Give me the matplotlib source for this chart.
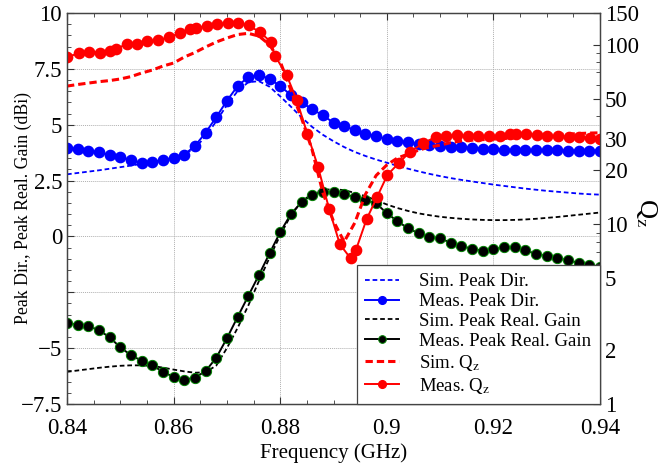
import numpy as np
import matplotlib.pyplot as plt
from matplotlib.ticker import FixedLocator, FixedFormatter, NullFormatter

plt.rcParams['font.family'] = ['Liberation Serif', 'DejaVu Serif']
plt.rcParams['mathtext.fontset'] = 'stix'

# frequency sweep (GHz), 2 MHz steps
freq = np.linspace(0.84, 0.94, 51)

sim_dir = [2.78, 2.84, 2.90, 2.96, 3.03, 3.10, 3.17, 3.25, 3.33, 3.42,
           3.52, 3.66, 3.95, 4.48, 5.15, 5.88, 6.50, 6.90, 6.95, 6.70,
           6.27, 5.81, 5.33, 4.90, 4.55, 4.26, 4.00, 3.78, 3.60, 3.44,
           3.30, 3.16, 3.03, 2.91, 2.80, 2.70, 2.61, 2.53, 2.46, 2.39,
           2.32, 2.26, 2.20, 2.14, 2.09, 2.04, 2.00, 1.96, 1.92, 1.89, 1.87]
meas_dir = [3.97, 3.91, 3.84, 3.76, 3.66, 3.55, 3.43, 3.29, 3.32, 3.41,
            3.51, 3.66, 4.05, 4.64, 5.34, 6.07, 6.73, 7.13, 7.22, 7.06,
            6.73, 6.33, 6.00, 5.69, 5.42, 5.09, 4.94, 4.76, 4.60, 4.48,
            4.37, 4.28, 4.21, 4.13, 4.09, 4.05, 4.02, 3.99, 3.96, 3.93,
            3.91, 3.88, 3.87, 3.87, 3.85, 3.85, 3.85, 3.84, 3.84, 3.84, 3.84]
sim_gain = [-6.06, -6.00, -5.94, -5.88, -5.83, -5.79, -5.77, -5.77, -5.80, -5.87,
            -5.96, -6.04, -6.10, -6.08, -5.78, -5.00, -4.10, -3.10, -2.00, -0.95,
            0.05, 0.95, 1.55, 1.92, 2.08, 2.12, 2.07, 1.95, 1.80, 1.62,
            1.43, 1.27, 1.14, 1.03, 0.95, 0.88, 0.83, 0.79, 0.76, 0.74,
            0.73, 0.73, 0.74, 0.76, 0.79, 0.83, 0.87, 0.92, 0.97, 1.02, 1.07]
meas_gain = [-3.89, -3.95, -4.02, -4.19, -4.52, -4.96, -5.32, -5.56, -5.77, -6.06,
             -6.29, -6.41, -6.32, -6.03, -5.43, -4.56, -3.61, -2.67, -1.73, -0.76,
             0.19, 1.00, 1.53, 1.87, 2.00, 1.99, 1.89, 1.76, 1.63, 1.48,
             1.04, 0.68, 0.36, 0.14, -0.03, -0.09, -0.28, -0.42, -0.56, -0.64,
             -0.58, -0.49, -0.49, -0.61, -0.79, -0.88, -0.97, -1.07, -1.18, -1.27, -1.36]
sim_q = [58.8, 60.0, 61.1, 62.2, 63.1, 64.4, 66.4, 69.5, 72.2, 76.0,
         79.0, 85.3, 90.4, 97.0, 103.4, 108.8, 113.8, 115.6, 111.6, 100.0,
         80.5, 56.0, 39.0, 25.9, 15.0, 10.4, 8.0, 10.2, 14.7, 18.7,
         21.4, 23.4, 24.6, 25.9, 26.9, 27.6, 28.5, 29.1, 29.4, 29.6,
         29.8, 30.0, 30.4, 30.8, 31.1, 31.4, 31.6, 31.8, 32.0, 32.2, 32.3]

meas_q_freq = [0.8400, 0.8423, 0.8442, 0.8462, 0.8481, 0.8492, 0.8512, 0.8532, 0.8551, 0.8571,
               0.8592, 0.8612, 0.8631, 0.8642, 0.8662, 0.8682, 0.8703, 0.8721, 0.8741, 0.8762,
               0.8782, 0.8790, 0.8812, 0.8831, 0.8851, 0.8871, 0.8892, 0.8912, 0.8932, 0.8942,
               0.8962, 0.8982, 0.9001, 0.9022, 0.9044, 0.9068, 0.9092, 0.9112, 0.9132, 0.9153,
               0.9172, 0.9192, 0.9212, 0.9231, 0.9242, 0.9261, 0.9281, 0.9301, 0.9321, 0.9341,
               0.9361, 0.9381, 0.9400]
meas_q = [85.6, 89.4, 91.3, 90.2, 92.5, 94.5, 100.8, 101.2, 104.3, 106.1,
          109.8, 116.0, 121.7, 123.3, 126.9, 129.7, 131.4, 131.4, 128.1, 117.1,
          104.0, 87.0, 67.7, 49.2, 31.8, 20.9, 12.1, 7.74, 6.47, 7.19,
          10.66, 14.24, 18.8, 21.85, 25.4, 28.2, 30.7, 31.0, 31.4, 31.0,
          31.0, 31.0, 31.1, 31.7, 31.8, 31.8, 31.4, 31.1, 31.0, 30.7,
          30.7, 30.3, 29.7]

fig = plt.figure(figsize=(6.72, 4.66), dpi=100)
ax = fig.add_axes([67 / 672, 1 - 404 / 466, 533 / 672, 391 / 466])
ax2 = ax.twinx()

# directivity / gain on left axis
l1, = ax.plot(freq, sim_dir, color='blue', lw=1.3, dashes=(2.6, 1.6))
l2, = ax.plot(freq, meas_dir, color='blue', lw=1.4, marker='o', ms=7.4,
              mfc='blue', mec='blue')
l3, = ax.plot(freq, sim_gain, color='black', lw=1.3, dashes=(2.6, 1.6))
l4, = ax.plot(freq, meas_gain, color='black', lw=1.4, marker='o', ms=7.4,
              mfc='black', mec='green', mew=0.7)

# Q on right (log) axis
l5, = ax2.plot(freq, sim_q, color='red', lw=2.2, dashes=(2.4, 1.3))
l6, = ax2.plot(meas_q_freq, meas_q, color='red', lw=1.4, marker='o', ms=7.4,
               mfc='red', mec='red')

ax.set_xlim(0.84, 0.94)
ax.set_ylim(-7.5, 10)
ax2.set_yscale('log')
ax2.set_ylim(1, 150)

ax.set_xticks([0.84, 0.86, 0.88, 0.9, 0.92, 0.94])
ax.set_xticklabels(['0.84', '0.86', '0.88', '0.9', '0.92', '0.94'])
ax.xaxis.set_minor_locator(FixedLocator(np.arange(0.84, 0.9401, 0.005)))
ax.set_yticks([-7.5, -5, -2.5, 0, 2.5, 5, 7.5, 10])
ax.set_yticklabels(['\u22127.5', '\u22125', '', '0', '2.5', '5', '7.5', '10'])
ax.yaxis.set_minor_locator(FixedLocator(np.arange(-7.5, 10.01, 0.5)))

q_ticks = [1, 2, 5, 10, 20, 30, 50, 100, 150]
ax2.yaxis.set_major_locator(FixedLocator(q_ticks))
ax2.yaxis.set_major_formatter(FixedFormatter([str(t) for t in q_ticks]))
q_minor = [3, 4, 6, 7, 8, 9, 40, 60, 70, 80, 90]
ax2.yaxis.set_minor_locator(FixedLocator(q_minor))
ax2.yaxis.set_minor_formatter(NullFormatter())

ax.grid(True, which='major', color='#b0b0b0', linestyle=(0, (1, 1)), lw=0.7)

ax.tick_params(which='both', direction='in', top=True, right=False,
               labelsize=16.5, colors='#333333', labelcolor='black')
ax.tick_params(which='major', length=5, width=0.8)
ax.tick_params(which='minor', length=3, width=0.6)
ax.tick_params(axis='x', which='major', pad=10)
ax2.tick_params(which='both', direction='in', labelsize=16.5,
                colors='#333333', labelcolor='black')
ax2.tick_params(which='major', length=5, width=0.8)
ax2.tick_params(which='minor', length=3, width=0.6)

for a in (ax, ax2):
    for s in a.spines.values():
        s.set_color('#444444')
        s.set_linewidth(0.9)

ax.set_xlabel('Frequency (GHz)', fontsize=15, labelpad=3)
ax.set_ylabel('Peak Dir., Peak Real. Gain (dBi)', fontsize=12.8)
ax.yaxis.set_label_coords(-0.066, 0.5)
fig.text(647 / 672, 1 - 213 / 466, r'Q$_\mathrm{z}$', fontsize=19,
         rotation=270, ha='center', va='center')

leg = ax2.legend([l1, l2, l3, l4, l5, l6],
                 ['Sim. Peak Dir.', 'Meas. Peak Dir.', 'Sim. Peak Real. Gain',
                  'Meas. Peak Real. Gain', r'Sim. Q$_\mathrm{z}$', r'Meas. Q$_\mathrm{z}$'],
                 loc='lower right', borderaxespad=0, fontsize=13.5,
                 fancybox=False, framealpha=1, edgecolor='#444444',
                 handlelength=1.8, handletextpad=1.1, labelspacing=0.15,
                 borderpad=0.45, markerscale=0.75)
leg.get_frame().set_linewidth(0.9)

fig.savefig('out.png', dpi=100)
